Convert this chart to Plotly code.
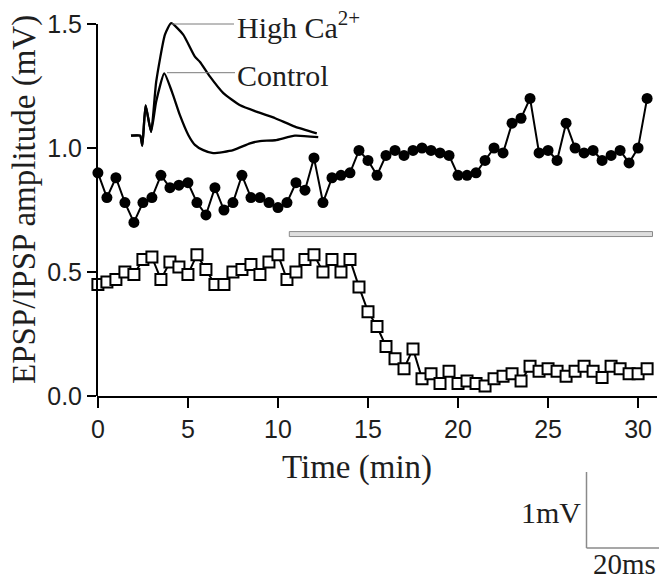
import plotly.graph_objects as go

# ---------------- data ----------------
time_min = [0, 0.5, 1, 1.5, 2, 2.5, 3, 3.5, 4, 4.5,
            5, 5.5, 6, 6.5, 7, 7.5, 8, 8.5, 9, 9.5,
            10, 10.5, 11, 11.5, 12, 12.5, 13, 13.5, 14, 14.5,
            15, 15.5, 16, 16.5, 17, 17.5, 18, 18.5, 19, 19.5,
            20, 20.5, 21, 21.5, 22, 22.5, 23, 23.5, 24, 24.5,
            25, 25.5, 26, 26.5, 27, 27.5, 28, 28.5, 29, 29.5,
            30, 30.5]

epsp_amp = [0.90, 0.80, 0.88, 0.78, 0.70, 0.78, 0.80, 0.89, 0.84, 0.85,
            0.86, 0.78, 0.73, 0.84, 0.75, 0.78, 0.89, 0.80, 0.80, 0.78,
            0.76, 0.78, 0.86, 0.83, 0.96, 0.78, 0.88, 0.89, 0.90, 0.99,
            0.95, 0.89, 0.97, 0.99, 0.97, 0.99, 1.00, 0.99, 0.98, 0.97,
            0.89, 0.89, 0.90, 0.95, 1.00, 0.98, 1.10, 1.12, 1.20, 0.98,
            0.99, 0.95, 1.10, 1.00, 0.98, 0.99, 0.95, 0.97, 0.99, 0.94,
            1.00, 1.20]

ipsp_amp = [0.45, 0.46, 0.47, 0.50, 0.49, 0.55, 0.56, 0.47, 0.54, 0.52,
            0.49, 0.57, 0.51, 0.45, 0.45, 0.50, 0.51, 0.53, 0.49, 0.54,
            0.57, 0.47, 0.50, 0.55, 0.57, 0.50, 0.55, 0.50, 0.55, 0.44,
            0.34, 0.28, 0.20, 0.15, 0.11, 0.19, 0.07, 0.09, 0.05, 0.10,
            0.05, 0.06, 0.05, 0.04, 0.07, 0.08, 0.09, 0.06, 0.12, 0.10,
            0.11, 0.10, 0.08, 0.10, 0.12, 0.10, 0.075, 0.12, 0.11, 0.09,
            0.09, 0.11]

x_ticks = [0, 5, 10, 15, 20, 25, 30]
y_ticks = [0.0, 0.5, 1.0, 1.5]
y_tick_text = ["0.0", "0.5", "1.0", "1.5"]

# drug application bar (min) and its level (mV)
bar_start = 10.63
bar_end = 30.8
bar_level = 0.653

# inset traces: time (ms), voltage (mV)
high_ca_t = [0, 2.5, 3.1, 4.0, 5.5, 6.9, 9.3, 11.0, 14.3, 17.5, 18.9, 21.6,
             25.3, 29.9, 34.7, 39.5, 44.9, 50.9]
high_ca_v = [0, 0, -0.13, 0.40, 0.05, 0.71, 1.33, 1.48, 1.33, 1.04, 0.97, 0.78,
             0.56, 0.40, 0.31, 0.23, 0.12, 0.03]
control_t = [0, 2.5, 3.1, 4.0, 5.5, 6.9, 9.1, 11.2, 13.4, 15.7, 17.5, 19.8,
             22.5, 28.0, 32.6, 35.3, 39.5, 44.9, 51.3]
control_v = [0, 0, -0.13, 0.40, 0.05, 0.45, 0.82, 0.58, 0.27, 0.01, -0.12, -0.19,
             -0.23, -0.19, -0.10, -0.07, -0.06, 0.0, -0.02]

scale_ms = 20
scale_mv = 1

# ---------------- layout helpers ----------------
W, H = 659, 579
L, R, T, B = 97, 2, 8, 183
PW = W - L - R
PH = H - T - B
Y0 = H - B
px_per_mv_main = 248.0


def pxx(x):
    return (x - L) / PW


def pxy(y):
    return (Y0 - y) / PH


# inset pixel geometry
ms_px = 3.65
mv_px = 76.0
inset_ox, inset_oy = 131.0, 135.7
inset_l, inset_r, inset_top, inset_bot = 120.0, 330.0, 8.0, 165.0

serif = "Liberation Serif, Times New Roman, serif"
sans = "Liberation Sans, Arial, sans-serif"
txt = "#1e1e1e"

fig = go.Figure()

fig.add_trace(go.Scatter(
    x=time_min, y=epsp_amp, mode="lines+markers",
    line=dict(color="black", width=2),
    marker=dict(symbol="circle", size=11, color="black"),
    cliponaxis=False, showlegend=False))

fig.add_trace(go.Scatter(
    x=time_min, y=ipsp_amp, mode="lines+markers",
    line=dict(color="black", width=2),
    marker=dict(symbol="square", size=11, color="white",
                line=dict(color="black", width=2)),
    cliponaxis=False, showlegend=False))

fig.add_trace(go.Scatter(
    x=high_ca_t, y=high_ca_v, mode="lines", xaxis="x2", yaxis="y2",
    line=dict(color="black", width=2.3, shape="spline", smoothing=0.5),
    showlegend=False))
fig.add_trace(go.Scatter(
    x=control_t, y=control_v, mode="lines", xaxis="x2", yaxis="y2",
    line=dict(color="black", width=2.3, shape="spline", smoothing=0.5),
    showlegend=False))

shapes = []
# y axis line (0 to 1.5)
shapes.append(dict(type="line", xref="paper", yref="y", x0=0, x1=0,
                   y0=y_ticks[0], y1=y_ticks[-1],
                   line=dict(color="black", width=2)))
# application bar
shapes.append(dict(type="rect", xref="x", yref="y", x0=bar_start, x1=bar_end,
                   y0=bar_level - 0.01, y1=bar_level + 0.01,
                   fillcolor="#dedede", line=dict(color="#8a8a8a", width=1)))
# leader lines
shapes.append(dict(type="line", xref="paper", yref="paper",
                   x0=pxx(172), x1=pxx(234), y0=pxy(24), y1=pxy(24),
                   line=dict(color="#7a7a7a", width=1)))
shapes.append(dict(type="line", xref="paper", yref="paper",
                   x0=pxx(167), x1=pxx(235), y0=pxy(72.7), y1=pxy(72.7),
                   line=dict(color="#7a7a7a", width=1)))
# scale bar
sb_x, sb_y = 586.5, 548.0
shapes.append(dict(type="line", xref="paper", yref="paper",
                   x0=pxx(sb_x), x1=pxx(sb_x),
                   y0=pxy(sb_y), y1=pxy(sb_y - scale_mv * mv_px),
                   line=dict(color="#8a8a8a", width=1.5)))
shapes.append(dict(type="line", xref="paper", yref="paper",
                   x0=pxx(sb_x), x1=pxx(sb_x + scale_ms * ms_px),
                   y0=pxy(sb_y), y1=pxy(sb_y),
                   line=dict(color="#8a8a8a", width=1.5)))

annotations = [
    dict(text="EPSP/IPSP amplitude (mV)", x=pxx(24), y=pxy(200),
         xref="paper", yref="paper", showarrow=False, textangle=-90,
         xanchor="center", yanchor="middle",
         font=dict(family=serif, size=33, color=txt)),
    dict(text="Time (min)", x=pxx(357), y=pxy(467),
         xref="paper", yref="paper", showarrow=False,
         xanchor="center", yanchor="middle",
         font=dict(family=serif, size=33, color=txt)),
    dict(text="High Ca<sup>2+</sup>", x=pxx(235), y=pxy(25),
         xref="paper", yref="paper", showarrow=False,
         xanchor="left", yanchor="middle",
         font=dict(family=serif, size=30, color=txt)),
    dict(text="Control", x=pxx(235), y=pxy(75),
         xref="paper", yref="paper", showarrow=False,
         xanchor="left", yanchor="middle",
         font=dict(family=serif, size=30, color=txt)),
    dict(text="1mV", x=pxx(583), y=pxy(512),
         xref="paper", yref="paper", showarrow=False,
         xanchor="right", yanchor="middle",
         font=dict(family=serif, size=30, color=txt)),
    dict(text="20ms", x=pxx(624), y=pxy(564),
         xref="paper", yref="paper", showarrow=False,
         xanchor="center", yanchor="middle",
         font=dict(family=serif, size=29, color=txt)),
]

fig.update_layout(
    width=W, height=H,
    margin=dict(l=L, r=R, t=T, b=B, pad=0),
    paper_bgcolor="white", plot_bgcolor="rgba(0,0,0,0)",
    showlegend=False,
    xaxis=dict(range=[-0.05, 31.05], tickvals=x_ticks,
               showline=True, linecolor="black", linewidth=2,
               ticks="outside", ticklen=10, tickwidth=2, tickcolor="black",
               showgrid=False, zeroline=False,
               tickfont=dict(family=sans, size=25, color=txt)),
    yaxis=dict(range=[0, PH / px_per_mv_main], tickvals=y_ticks,
               ticktext=y_tick_text,
               showline=False,
               ticks="outside", ticklen=9, tickwidth=2, tickcolor="black",
               showgrid=False, zeroline=False,
               tickfont=dict(family=sans, size=25, color=txt)),
    xaxis2=dict(domain=[pxx(inset_l), pxx(inset_r)],
                range=[(inset_l - inset_ox) / ms_px, (inset_r - inset_ox) / ms_px],
                anchor="y2", visible=False, showgrid=False, zeroline=False),
    yaxis2=dict(domain=[pxy(inset_bot), pxy(inset_top)],
                range=[(inset_oy - inset_bot) / mv_px, (inset_oy - inset_top) / mv_px],
                anchor="x2", visible=False, showgrid=False, zeroline=False),
    shapes=shapes,
    annotations=annotations,
)

fig.write_html("out.html")
